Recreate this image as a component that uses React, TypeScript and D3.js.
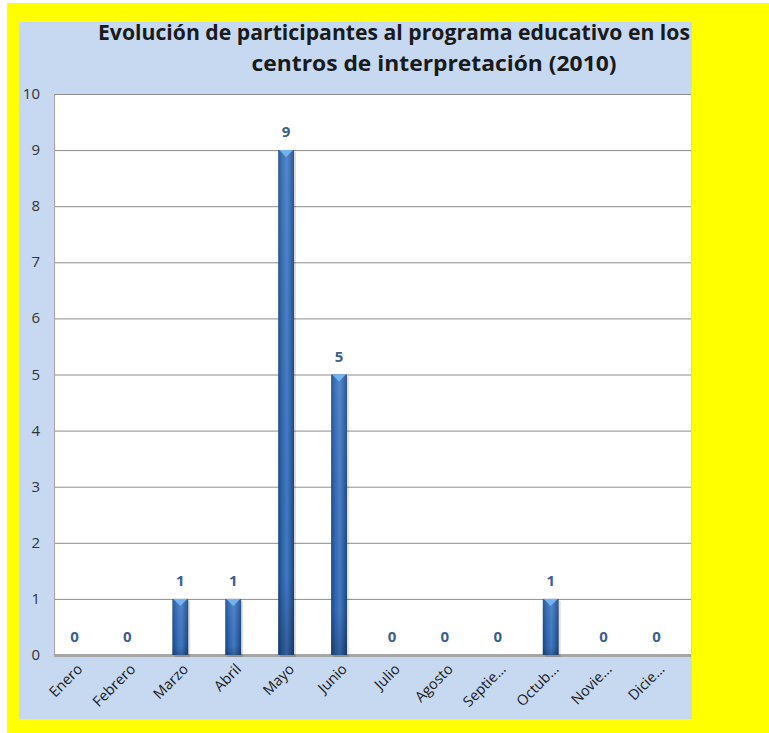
import React, { useEffect, useRef } from 'react';
import * as d3 from 'd3';

// Chart data
const months = ['Enero', 'Febrero', 'Marzo', 'Abril', 'Mayo', 'Junio', 'Julio', 'Agosto', 'Septie...', 'Octub...', 'Novie...', 'Dicie...'];
const participants = [0, 0, 1, 1, 9, 5, 0, 0, 0, 1, 0, 0];
const yTicks = [0, 1, 2, 3, 4, 5, 6, 7, 8, 9, 10];
const titleLines = ['Evolución de participantes al programa educativo en los', 'centros de interpretación (2010)'];

const FONT = '"Open Sans", "DejaVu Sans", sans-serif';

const App: React.FC = () => {
  const ref = useRef<SVGSVGElement>(null);

  useEffect(() => {
    if (!ref.current) return;
    const svg = d3.select(ref.current);
    svg.selectAll('*').remove();

    const W = 769, H = 733;
    const plot = { left: 54, right: 691, top: 94, bottom: 655 };

    // gradients
    const defs = svg.append('defs');
    const g1 = defs.append('linearGradient').attr('id', 'barH').attr('x1', 0).attr('x2', 1).attr('y1', 0).attr('y2', 0);
    g1.append('stop').attr('offset', '0%').attr('stop-color', '#1d4a86');
    g1.append('stop').attr('offset', '25%').attr('stop-color', '#3168b2');
    g1.append('stop').attr('offset', '55%').attr('stop-color', '#437ecc');
    g1.append('stop').attr('offset', '80%').attr('stop-color', '#2f62a8');
    g1.append('stop').attr('offset', '100%').attr('stop-color', '#1b4680');
    const g2 = defs.append('linearGradient').attr('id', 'barV').attr('x1', 0).attr('x2', 0).attr('y1', 0).attr('y2', 1);
    g2.append('stop').attr('offset', '0%').attr('stop-color', '#ffffff').attr('stop-opacity', 0.08);
    g2.append('stop').attr('offset', '85%').attr('stop-color', '#000000').attr('stop-opacity', 0.05);
    g2.append('stop').attr('offset', '100%').attr('stop-color', '#000000').attr('stop-opacity', 0.25);

    // backgrounds
    svg.append('rect').attr('width', W).attr('height', H).attr('fill', '#ffffff');
    svg.append('rect').attr('x', 7).attr('y', 3).attr('width', W - 7).attr('height', H - 3).attr('fill', '#ffff00');
    svg.append('rect').attr('x', 19).attr('y', 22).attr('width', 673).attr('height', 697).attr('fill', '#c6d9f1');
    svg.append('rect')
      .attr('x', plot.left).attr('y', plot.top)
      .attr('width', plot.right - plot.left).attr('height', plot.bottom - plot.top)
      .attr('fill', '#ffffff');

    // title
    svg.append('text')
      .attr('x', 394).attr('y', 40)
      .attr('text-anchor', 'middle')
      .attr('font-family', FONT).attr('font-size', 22).attr('font-weight', 'bold')
      .attr('fill', '#1a1a1a')
      .attr('textLength', 592).attr('lengthAdjust', 'spacingAndGlyphs')
      .text(titleLines[0]);
    svg.append('text')
      .attr('x', 434).attr('y', 71)
      .attr('text-anchor', 'middle')
      .attr('font-family', FONT).attr('font-size', 22).attr('font-weight', 'bold')
      .attr('fill', '#1a1a1a')
      .attr('textLength', 365).attr('lengthAdjust', 'spacingAndGlyphs')
      .text(titleLines[1]);

    const x = d3.scaleBand<string>().domain(months).range([48, 683]).paddingInner(0.7).paddingOuter(0.35);
    const y = d3.scaleLinear().domain([0, 10]).range([plot.bottom, plot.top]);

    // gridlines
    svg.append('g').selectAll('line').data(yTicks.filter(t => t > 0)).join('line')
      .attr('x1', plot.left).attr('x2', plot.right)
      .attr('y1', d => y(d) + 0.5).attr('y2', d => y(d) + 0.5)
      .attr('stroke', '#8c8c8c').attr('stroke-width', 1);
    svg.append('line')
      .attr('x1', plot.left + 0.5).attr('x2', plot.left + 0.5)
      .attr('y1', plot.top).attr('y2', plot.bottom)
      .attr('stroke', '#a6a6a6');
    // floor
    svg.append('rect')
      .attr('x', plot.left).attr('y', plot.bottom - 1)
      .attr('width', plot.right - plot.left).attr('height', 3)
      .attr('fill', '#a6a6a6');

    // y labels
    svg.append('g').selectAll('text').data(yTicks).join('text')
      .attr('x', 40).attr('y', d => y(d) + 5)
      .attr('text-anchor', 'end')
      .attr('font-family', FONT).attr('font-size', 15)
      .attr('fill', '#333333')
      .text(d => d);

    // bars
    const bw = x.bandwidth();
    const bars = svg.append('g').selectAll('g').data(months.map((m, i) => ({ m, v: participants[i] })).filter(d => d.v > 0)).join('g');
    bars.append('rect')
      .attr('x', d => (x(d.m) as number) + 2).attr('y', d => y(d.v) + 2)
      .attr('width', bw).attr('height', d => y(0) - y(d.v))
      .attr('fill', '#000').attr('opacity', 0.12);
    bars.append('rect')
      .attr('x', d => x(d.m) as number).attr('y', d => y(d.v))
      .attr('width', bw).attr('height', d => y(0) - y(d.v))
      .attr('fill', 'url(#barH)');
    bars.append('rect')
      .attr('x', d => x(d.m) as number).attr('y', d => y(d.v))
      .attr('width', bw).attr('height', d => y(0) - y(d.v))
      .attr('fill', 'url(#barV)');
    bars.append('path')
      .attr('d', d => {
        const x0 = x(d.m) as number, y0 = y(d.v);
        return `M${x0 + 1},${y0} L${x0 + bw - 1},${y0} L${x0 + bw / 2},${y0 + 7} Z`;
      })
      .attr('fill', '#74b2f0');

    // value labels
    svg.append('g').selectAll('text').data(participants).join('text')
      .attr('x', (d, i) => (x(months[i]) as number) + bw / 2)
      .attr('y', d => y(d) - 13)
      .attr('text-anchor', 'middle')
      .attr('font-family', FONT).attr('font-size', 15).attr('font-weight', 'bold')
      .attr('fill', '#3c5f90')
      .text(d => d);

    // x labels
    svg.append('g').selectAll('text').data(months).join('text')
      .attr('transform', d => `translate(${(x(d) as number) + bw / 2 + 9},${plot.bottom + 15}) rotate(-45)`)
      .attr('text-anchor', 'end')
      .attr('font-family', FONT).attr('font-size', 14.5)
      .attr('fill', '#1a1a1a')
      .text(d => d);
  }, []);

  return (
    <div style={{ position: 'absolute', left: 0, top: 0 }}>
      <svg ref={ref} width={769} height={733} style={{ display: 'block' }} />
    </div>
  );
};

export default App;
